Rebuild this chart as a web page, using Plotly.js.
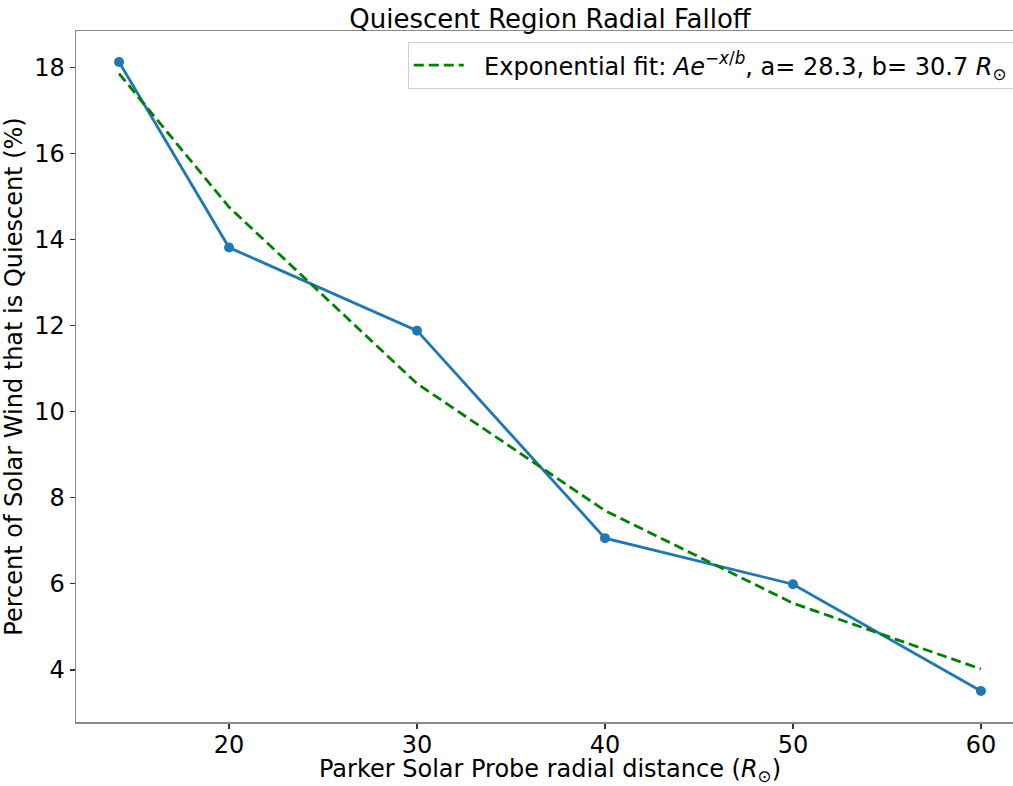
<!DOCTYPE html>
<html>
<head>
<meta charset="utf-8">
<script src="https://cdn.plot.ly/plotly-3.0.1.min.js"></script>
<style>
html, body { margin: 0; padding: 0; overflow: hidden; background: #fff; }
#chart { width: 1030px; height: 786px; }
</style>
</head>
<body>
<div id="chart"></div>
<script>
// Data
const distance = [14.15, 20, 30, 40, 50, 60];
const quiescentPercent = [18.12, 13.81, 11.88, 7.06, 5.99, 3.51];
const fitValues = [17.85, 14.75, 10.65, 7.70, 5.55, 4.02];
const xTicks = [20, 30, 40, 50, 60];
const yTicks = [4, 6, 8, 10, 12, 14, 16, 18];

const FONT = "DejaVu Sans, Verdana, sans-serif";

const traces = [
  {
    x: distance, y: quiescentPercent,
    mode: 'lines+markers', type: 'scatter',
    line: { color: '#1f77b4', width: 2.8 },
    marker: { color: '#1f77b4', size: 10 },
    showlegend: false, hoverinfo: 'skip'
  },
  {
    x: distance, y: fitValues,
    mode: 'lines', type: 'scatter',
    line: { color: '#008000', width: 2.8, dash: '10px,5px' },
    name: '\u00a0\u00a0Exponential fit: <i>Ae</i><sup>\u2212<i>x</i>/<i>b</i></sup>, a= 28.3, b= 30.7 <i>R</i><sub>\u2299</sub>\u00a0',
    hoverinfo: 'skip'
  }
];

const layout = {
  width: 1030, height: 786,
  margin: { l: 76, r: 6, t: 31, b: 64 },
  paper_bgcolor: '#fff', plot_bgcolor: '#fff',
  font: { family: FONT, size: 24, color: '#000' },
  title: {
    text: 'Quiescent Region Radial Falloff',
    font: { family: FONT, size: 26, color: '#000' },
    x: 0.5, xref: 'paper', xanchor: 'center',
    y: 1, yref: 'paper', yanchor: 'bottom', pad: { b: 3 }
  },
  xaxis: {
    range: [11.86, 62.29],
    tickvals: xTicks, ticktext: xTicks.map(String),
    ticks: 'outside', ticklen: 5, tickwidth: 1.2, tickcolor: '#333',
    ticklabelstandoff: -4,
    showgrid: false, zeroline: false,
    showline: true, linecolor: '#888', linewidth: 1.5, mirror: true,
    tickfont: { family: FONT, size: 24, color: '#000' },
    title: { text: 'Parker Solar Probe radial distance (<i>R</i><sub>\u2299</sub>)', font: { family: FONT, size: 24, color: '#000' }, standoff: 9 }
  },
  yaxis: {
    range: [2.79, 18.84],
    tickvals: yTicks, ticktext: yTicks.map(String),
    ticks: 'outside', ticklen: 5, tickwidth: 1.2, tickcolor: '#333',
    showgrid: false, zeroline: false,
    showline: true, linecolor: '#888', linewidth: 1.5, mirror: true,
    tickfont: { family: FONT, size: 24, color: '#000' },
    title: { text: 'Percent of Solar Wind that is Quiescent (%)', font: { family: FONT, size: 24, color: '#000' }, standoff: 8 }
  },
  legend: {
    x: 0.350, y: 0.984, xanchor: 'left', yanchor: 'top',
    bgcolor: 'rgba(255,255,255,0.8)', bordercolor: '#d0d0d0', borderwidth: 1,
    font: { family: FONT, size: 24, color: '#000' },
    itemwidth: 50
  },
  showlegend: true
};

Plotly.newPlot('chart', traces, layout, { displayModeBar: false, staticPlot: true });
</script>
</body>
</html>
